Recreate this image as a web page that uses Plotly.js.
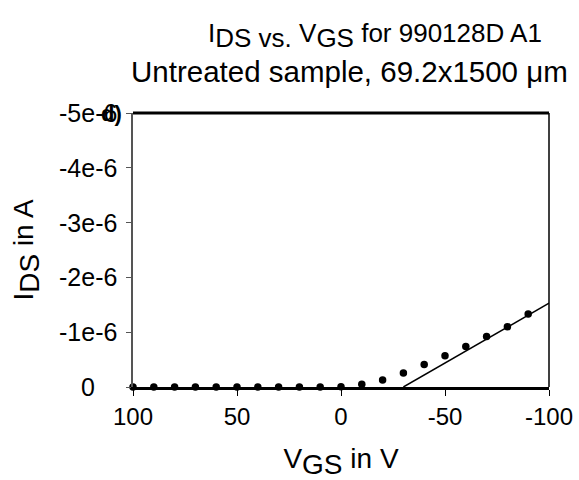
<!DOCTYPE html>
<html>
<head>
<meta charset="utf-8">
<script src="https://cdn.plot.ly/plotly-3.0.1.min.js"></script>
<style>html,body{margin:0;padding:0;background:#fff;}#chart{width:579px;height:480px;}</style>
</head>
<body>
<div id="chart"></div>
<script>
// Measured data: gate voltage (V) and drain current (A)
var vgs = [100, 90, 80, 70, 60, 50, 40, 30, 20, 10, 0, -10, -20, -30, -40, -50, -60, -70, -80, -90];
var ids = [0, 0, 0, 0, 0, 0, 0, 0, 0, 0, -0.005e-6, -0.05e-6, -0.13e-6, -0.255e-6, -0.41e-6, -0.57e-6, -0.74e-6, -0.92e-6, -1.10e-6, -1.33e-6];
// Linear extrapolation line
var fitV = [-30, -100];
var fitI = [0, -1.53e-6];
// Tick labels
var xTickVals = [100, 50, 0, -50, -100];
var xTickText = ["100", "50", "0", "-50", "-100"];
var yTickVals = [0, -1e-6, -2e-6, -3e-6, -4e-6, -5e-6];
var yTickText = ["0", "-1e-6", "-2e-6", "-3e-6", "-4e-6", "-5e-6"];

var FONT = "'Liberation Sans', Arial, sans-serif";
var sub = function (t, px) { return "<sub><span style='font-size:" + px + "px'>" + t + "</span></sub>"; };

var traces = [
  {x: fitV, y: fitI, mode: "lines", type: "scatter", line: {color: "#000", width: 1.5}, hoverinfo: "skip", cliponaxis: false},
  {x: vgs, y: ids, mode: "markers", type: "scatter", marker: {color: "#000", size: 7.5}, cliponaxis: false}
];

// y tick labels are centre-aligned in the reference, so they are drawn as annotations on the y scale
var yLabelAnns = yTickVals.map(function (v, i) {
  return {xref: "paper", yref: "y", x: (88 - 133) / 416, y: v, xanchor: "center", yanchor: "middle",
          showarrow: false, text: yTickText[i], font: {family: FONT, size: 25, color: "#000"}};
});

var layout = {
  width: 579, height: 480,
  margin: {l: 133, r: 30, t: 113, b: 93},
  paper_bgcolor: "#fff", plot_bgcolor: "#fff",
  showlegend: false,
  font: {family: FONT, color: "#000", size: 24},
  xaxis: {
    range: [100, -100], tickvals: xTickVals, ticktext: xTickText,
    showgrid: false, zeroline: false, showline: true, linecolor: "#000", linewidth: 3,
    ticks: "outside", ticklen: 6, tickwidth: 1, tickcolor: "#000",
    tickfont: {family: FONT, size: 24, color: "#000"},
    title: {text: "V" + sub("GS", 28) + " in V", font: {family: FONT, size: 28, color: "#000"}, standoff: 20}
  },
  yaxis: {
    range: [0, -5e-6], tickvals: yTickVals, showticklabels: false,
    showgrid: false, zeroline: false, showline: true, linecolor: "#555", linewidth: 2,
    ticks: "outside", ticklen: 5, tickwidth: 1, tickcolor: "#555",
    title: {text: "I" + sub("DS", 28) + " in A", font: {family: FONT, size: 28, color: "#000"}, standoff: 84}
  },
  shapes: [
    {type: "line", xref: "paper", yref: "paper", x0: 0, x1: 1, y0: 1, y1: 1, line: {color: "#000", width: 3}},
    {type: "line", xref: "paper", yref: "paper", x0: 1, x1: 1, y0: 0, y1: 1, line: {color: "#000", width: 1.5}}
  ],
  annotations: yLabelAnns.concat([
    {xref: "paper", yref: "paper", x: (375 - 133) / 416, y: (387 - 36) / 274, xanchor: "center", yanchor: "middle", showarrow: false,
     text: "I" + sub("DS vs. ", 26) + "V" + sub("GS", 26) + " for 990128D A1", font: {family: FONT, size: 26, color: "#000"}},
    {xref: "paper", yref: "paper", x: (349 - 133) / 416, y: (387 - 71) / 274, xanchor: "center", yanchor: "middle", showarrow: false,
     text: "Untreated sample, 69.2x1500 \u03bcm", font: {family: FONT, size: 29.5, color: "#000"}},
    {xref: "paper", yref: "paper", x: -0.022, y: 1, xanchor: "right", yanchor: "middle", showarrow: false,
     text: "<b>d)</b>", font: {family: FONT, size: 22, color: "#000"}}
  ])
};

Plotly.newPlot("chart", traces, layout, {displayModeBar: false, staticPlot: true});
</script>
</body>
</html>
